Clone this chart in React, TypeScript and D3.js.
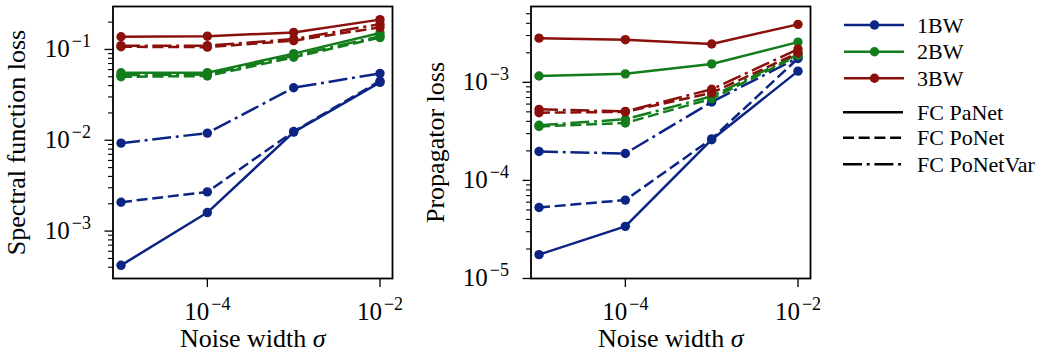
import React from "react";
import * as d3 from "d3";

// ---------- data ----------
const noiseWidths = [1e-5, 1e-4, 1e-3, 1e-2];
const bandLabels = ["1BW", "2BW", "3BW"];
const modelLabels = ["FC PaNet", "FC PoNet", "FC PoNetVar"];

// Spectral function loss  [band][model]
const spec1BW_PaNet = [4.2e-4, 1.6e-3, 0.0123, 0.0434];
const spec1BW_PoNet = [2.08e-3, 2.7e-3, 0.0125, 0.045];
const spec1BW_PoNetVar = [9.3e-3, 0.012, 0.0379, 0.0545];
const spec2BW_PaNet = [0.0553, 0.0555, 0.09, 0.152];
const spec2BW_PoNet = [0.05, 0.051, 0.082, 0.135];
const spec2BW_PoNetVar = [0.052, 0.053, 0.085, 0.14];
const spec3BW_PaNet = [0.138, 0.14, 0.154, 0.213];
const spec3BW_PoNet = [0.107, 0.106, 0.125, 0.175];
const spec3BW_PoNetVar = [0.11, 0.11, 0.13, 0.19];

// Propagator loss
const prop1BW_PaNet = [1.75e-5, 3.4e-5, 2.6e-4, 1.3e-3];
const prop1BW_PoNet = [5.3e-5, 6.3e-5, 2.65e-4, 1.75e-3];
const prop1BW_PoNetVar = [1.97e-4, 1.88e-4, 6.3e-4, 1.78e-3];
const prop2BW_PaNet = [1.16e-3, 1.22e-3, 1.54e-3, 2.57e-3];
const prop2BW_PoNet = [3.55e-4, 3.85e-4, 6.8e-4, 1.88e-3];
const prop2BW_PoNetVar = [3.65e-4, 4.2e-4, 7.2e-4, 1.92e-3];
const prop3BW_PaNet = [2.82e-3, 2.72e-3, 2.46e-3, 3.9e-3];
const prop3BW_PoNet = [4.9e-4, 5.0e-4, 7.8e-4, 2.0e-3];
const prop3BW_PoNetVar = [5.3e-4, 5.05e-4, 8.5e-4, 2.18e-3];

const xTickValues = [1e-4, 1e-2];
const specYTicks = [1e-3, 1e-2, 1e-1];
const propYTicks = [1e-5, 1e-4, 1e-3];

const colors = ["#0c2584", "#137c1b", "#8b100b"];
const dashes = ["", "11,4.7", "19,4.7,3,4.7"];

const specSeries = [
  [spec1BW_PaNet, spec1BW_PoNet, spec1BW_PoNetVar],
  [spec2BW_PaNet, spec2BW_PoNet, spec2BW_PoNetVar],
  [spec3BW_PaNet, spec3BW_PoNet, spec3BW_PoNetVar],
];
const propSeries = [
  [prop1BW_PaNet, prop1BW_PoNet, prop1BW_PoNetVar],
  [prop2BW_PaNet, prop2BW_PoNet, prop2BW_PoNetVar],
  [prop3BW_PaNet, prop3BW_PoNet, prop3BW_PoNetVar],
];

const FONT = "'Liberation Serif', 'Times New Roman', serif";
const SUP: Record<string, string> = { "-1": "−1", "-2": "−2", "-3": "−3", "-4": "−4", "-5": "−5" };

function expLabel(v: number) {
  const e = Math.round(Math.log10(v));
  return SUP[String(e)] ?? String(e);
}

type PanelProps = {
  x0: number; x1: number; y0: number; y1: number;
  yDomain: [number, number];
  yTicks: number[];
  series: number[][][];
  yLabel: string;
  yLabelX: number;
};

function Panel({ x0, x1, y0, y1, yDomain, yTicks, series, yLabel, yLabelX }: PanelProps) {
  const xs = d3.scaleLog().domain([Math.pow(10, -5.093), Math.pow(10, -1.855)]).range([x0, x1]);
  const ys = d3.scaleLog().domain(yDomain).range([y1, y0]);
  const line = d3
    .line<number>()
    .x((_, i) => xs(noiseWidths[i]))
    .y((d) => ys(d));

  const minor: number[] = [];
  const lo = Math.floor(Math.log10(yDomain[0]));
  const hi = Math.ceil(Math.log10(yDomain[1]));
  for (let e = lo; e <= hi; e++) {
    for (let k = 2; k <= 9; k++) {
      const v = k * Math.pow(10, e);
      if (v >= yDomain[0] * 0.999 && v <= yDomain[1] * 1.001) minor.push(v);
    }
  }
  const cy = (y0 + y1) / 2;
  const cx = (x0 + x1) / 2;

  return (
    <g>
      <defs>
        <clipPath id={`clip-${x0}`}>
          <rect x={x0} y={y0 - 6} width={x1 - x0 + 6} height={y1 - y0 + 6} />
        </clipPath>
      </defs>
      <g clipPath={`url(#clip-${x0})`}>
        {series.map((bandSet, b) =>
          bandSet.map((vals, m) => (
            <g key={`${b}-${m}`}>
              <path
                d={line(vals) || ""}
                fill="none"
                stroke={colors[b]}
                strokeWidth={2.5}
                strokeDasharray={dashes[m] || undefined}
                strokeLinejoin="round"
              />
              {vals.map((v, i) => (
                <circle key={i} cx={xs(noiseWidths[i])} cy={ys(v)} r={4.7} fill={colors[b]} />
              ))}
            </g>
          ))
        )}
      </g>
      {/* minor y ticks */}
      {minor.map((v, i) => (
        <line key={`mn${i}`} x1={x0 - 5} x2={x0} y1={ys(v)} y2={ys(v)} stroke="#000" strokeWidth={1.1} />
      ))}
      {/* major y ticks */}
      {yTicks.map((v, i) => (
        <g key={`yt${i}`}>
          <line x1={x0 - 8.5} x2={x0} y1={ys(v)} y2={ys(v)} stroke="#000" strokeWidth={1.3} />
          <text x={x0 - 22} y={ys(v) + 7.5} textAnchor="end" fontFamily={FONT} fontSize={25} fill="#000">
            10
            <tspan dx={2} dy={-10} fontSize={18}>{expLabel(v)}</tspan>
          </text>
        </g>
      ))}
      {/* x ticks */}
      {xTickValues.map((v, i) => (
        <g key={`xt${i}`}>
          <line x1={xs(v)} x2={xs(v)} y1={y1} y2={y1 + 8.5} stroke="#000" strokeWidth={1.3} />
          <text x={xs(v)} y={320} textAnchor="middle" fontFamily={FONT} fontSize={25} fill="#000">
            10
            <tspan dx={2} dy={-10} fontSize={18}>{expLabel(v)}</tspan>
          </text>
        </g>
      ))}
      <rect x={x0} y={y0} width={x1 - x0} height={y1 - y0} fill="none" stroke="#000" strokeWidth={1.8} />
      <text x={cx} y={347} textAnchor="middle" fontFamily={FONT} fontSize={26} fill="#000">
        Noise width <tspan fontStyle="italic">σ</tspan>
      </text>
      <text
        transform={`translate(${yLabelX},${cy}) rotate(-90)`}
        textAnchor="middle"
        fontFamily={FONT}
        fontSize={26}
        fill="#000"
      >
        {yLabel}
      </text>
    </g>
  );
}

function Legend() {
  const bandRows = [25, 51.7, 78.3];
  const styleRows = [112.3, 137.7, 164.3];
  return (
    <g fontFamily={FONT} fontSize={22}>
      {bandLabels.map((lab, i) => (
        <g key={lab}>
          <line x1={844} x2={904} y1={bandRows[i]} y2={bandRows[i]} stroke={colors[i]} strokeWidth={2.5} />
          <circle cx={874.5} cy={bandRows[i]} r={4.7} fill={colors[i]} />
          <text x={917} y={bandRows[i] + 7.5} fill="#000">{lab}</text>
        </g>
      ))}
      {modelLabels.map((lab, i) => (
        <g key={lab}>
          <line
            x1={843}
            x2={903}
            y1={styleRows[i]}
            y2={styleRows[i]}
            stroke="#000"
            strokeWidth={2.6}
            strokeDasharray={dashes[i] || undefined}
          />
          <text x={917} y={styleRows[i] + 7.5} fill="#000">{lab}</text>
        </g>
      ))}
    </g>
  );
}

export default function App() {
  return (
    <svg
      width={1050}
      height={358}
      viewBox="0 0 1050 358"
      style={{ position: "absolute", left: 0, top: 0, display: "block", background: "#fff" }}
    >
      <rect x={0} y={0} width={1050} height={358} fill="#fff" />
      <Panel
        x0={113}
        x1={392.5}
        y0={6.5}
        y1={278.5}
        yDomain={[Math.pow(10, -3.522), Math.pow(10, -0.527)]}
        yTicks={specYTicks}
        series={specSeries}
        yLabel="Spectral function loss"
        yLabelX={25}
      />
      <Panel
        x0={531}
        x1={810.5}
        y0={6.5}
        y1={278.5}
        yDomain={[1e-5, Math.pow(10, -2.227)]}
        yTicks={propYTicks}
        series={propSeries}
        yLabel="Propagator loss"
        yLabelX={444}
      />
      <Legend />
    </svg>
  );
}
